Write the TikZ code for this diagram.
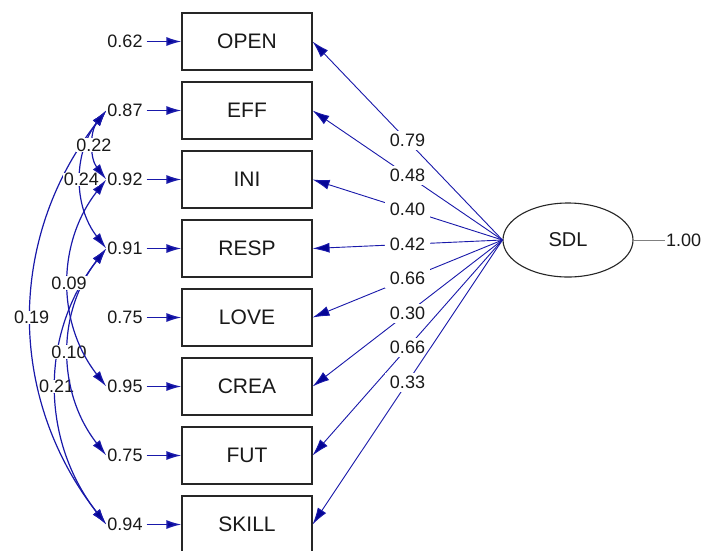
\documentclass[tikz,border=0pt]{standalone}
\usepackage{fontspec}
\setmainfont{Liberation Sans}
\usetikzlibrary{arrows.meta,shapes.geometric}
\definecolor{lb}{RGB}{25,25,170}
\definecolor{ah}{RGB}{5,5,150}
\begin{document}
\begin{tikzpicture}[x=1pt,y=-1pt,
  box/.style={draw=black!85,line width=1.1pt,minimum width=130pt,minimum height=57pt,inner sep=0pt,text=black!90,font=\fontsize{21}{21}\selectfont},
  err/.style={inner sep=1pt,text=black!90,font=\fontsize{18}{18}\selectfont},
  eline/.style={draw=lb,line width=1.6pt,-{Latex[length=15pt,width=9pt,fill=ah]},shorten <=3pt},
  load/.style={draw=lb,line width=0.9pt,-{Latex[length=17pt,width=10pt,fill=ah]}},
  lab/.style={fill=white,inner xsep=5pt,inner ysep=3pt,text=black!90,font=\fontsize{18}{18}\selectfont},
  corr/.style={draw=lb,line width=1.2pt,{Latex[length=16pt,width=9pt,fill=ah]}-{Latex[length=16pt,width=9pt,fill=ah]}},
  clab/.style={fill=white,inner sep=0.5pt,text=black!90,font=\fontsize{18}{18}\selectfont}]

\clip (0,0) rectangle (714,550);
\fill[white] (0,0) rectangle (714,550);

% observed variables
\node[box] (open)  at (247,41.5)  {OPEN};
\node[box] (eff)   at (247,110.5) {EFF};
\node[box] (ini)   at (247,179.5) {INI};
\node[box] (resp)  at (247,248.5) {RESP};
\node[box] (love)  at (247,317.5) {LOVE};
\node[box] (crea)  at (247,386.5) {CREA};
\node[box] (fut)   at (247,455.5) {FUT};
\node[box] (skill) at (247,524.5) {SKILL};

% error variances
\node[err] (e1) at (125,41.5)  {0.62};
\node[err] (e2) at (125,110.5) {0.87};
\node[err] (e3) at (125,179.5) {0.92};
\node[err] (e4) at (125,248.5) {0.91};
\node[err] (e5) at (125,317.5) {0.75};
\node[err] (e6) at (125,386.5) {0.95};
\node[err] (e7) at (125,455.5) {0.75};
\node[err] (e8) at (125,524.5) {0.94};

\draw[eline] (e1.east) -- (open.west);
\draw[eline] (e2.east) -- (eff.west);
\draw[eline] (e3.east) -- (ini.west);
\draw[eline] (e4.east) -- (resp.west);
\draw[eline] (e5.east) -- (love.west);
\draw[eline] (e6.east) -- (crea.west);
\draw[eline] (e7.east) -- (fut.west);
\draw[eline] (e8.east) -- (skill.west);

% latent variable
\node[ellipse,draw=black!85,line width=1.1pt,minimum width=130pt,minimum height=74pt,inner sep=0pt,text=black!90,font=\fontsize{20}{20}\selectfont] (sdl) at (568,240) {SDL};
\node[err,anchor=west] (one) at (665,240) {1.00};
\draw[black!50,line width=0.8pt] (sdl.east) -- (one.west);

% loadings
\draw[load] (sdl.west) -- node[lab]{0.79} (open.east);
\draw[load] (sdl.west) -- node[lab]{0.48} (eff.east);
\draw[load] (sdl.west) -- node[lab]{0.40} (ini.east);
\draw[load] (sdl.west) -- node[lab]{0.42} (resp.east);
\draw[load] (sdl.west) -- node[lab]{0.66} (love.east);
\draw[load] (sdl.west) -- node[lab]{0.30} (crea.east);
\draw[load] (sdl.west) -- node[lab]{0.66} (fut.east);
\draw[load] (sdl.west) -- node[lab]{0.33} (skill.east);

% error covariances
\draw[corr] (e2.west) to[bend right=38] node[clab]{0.19} (e8.west);
\draw[corr] (e4.west) to[bend right=38] node[clab]{0.21} (e8.west);
\draw[corr] (e4.west) to[bend right=38] node[clab]{0.10} (e7.west);
\draw[corr] (e3.west) to[bend right=38] node[clab]{0.09} (e6.west);
\draw[corr] (e2.west) to[bend right=38] node[clab]{0.24} (e4.west);
\draw[corr] (e2.west) to[bend right=38] node[clab]{0.22} (e3.west);
\end{tikzpicture}
\end{document}
